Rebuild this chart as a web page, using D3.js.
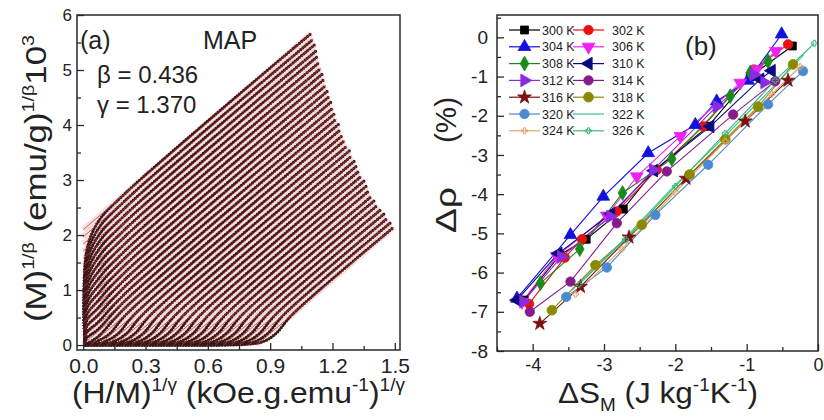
<!DOCTYPE html>
<html><head><meta charset="utf-8">
<script src="https://cdn.jsdelivr.net/npm/d3@7"></script>
<style>body{margin:0;background:#fff}svg{display:block}text{font-family:"Liberation Sans",Arial,sans-serif;fill:#222}</style>
</head><body><svg id="c" width="824" height="420"></svg>
<script>
// ---------- Panel (a): modified Arrott plot ----------
const mapXTicks = [0, 0.3, 0.6, 0.9, 1.2, 1.5];
const mapXMinor = [0.15, 0.45, 0.75, 1.05, 1.35];
const mapYTicks = [0, 1, 2, 3, 4, 5, 6];
const mapYMinor = [0.5, 1.5, 2.5, 3.5, 4.5, 5.5];
const mapFitSlope = 3.25;
const mapFitX0 = [-0.645,-0.605,-0.565,-0.525,-0.485,-0.445,-0.405,-0.365,-0.325,-0.285,
  -0.245,-0.205,-0.165,-0.125,-0.085,-0.045,-0.005,0.035,0.075,0.115,0.155,0.195,0.235,
  0.275,0.315,0.355,0.395,0.435,0.475,0.515,0.555,0.595,0.635,0.675,0.715,0.755,0.795,0.835];
const mapIsotherms = [
 [[0.008,0.05],[0.015,1.68],[0.07,2.23],[0.2,2.75],[1.099,5.67]],
 [[0.008,0.05],[0.015,1.57],[0.07,2.10],[0.2,2.62],[1.107,5.56]],
 [[0.008,0.05],[0.015,1.47],[0.07,1.97],[0.2,2.49],[1.114,5.46]],
 [[0.008,0.05],[0.015,1.36],[0.07,1.84],[0.2,2.36],[1.122,5.35]],
 [[0.008,0.05],[0.015,1.26],[0.07,1.71],[0.2,2.23],[1.129,5.25]],
 [[0.008,0.05],[0.015,1.16],[0.07,1.58],[0.2,2.10],[1.137,5.14]],
 [[0.008,0.05],[0.015,1.05],[0.07,1.45],[0.2,1.97],[1.144,5.03]],
 [[0.008,0.05],[0.015,0.95],[0.07,1.32],[0.2,1.84],[1.152,4.93]],
 [[0.008,0.05],[0.015,0.84],[0.07,1.19],[0.2,1.71],[1.160,4.83]],
 [[0.008,0.05],[0.015,0.74],[0.07,1.06],[0.2,1.58],[1.168,4.72]],
 [[0.008,0.05],[0.015,0.64],[0.07,0.93],[0.2,1.45],[1.177,4.62]],
 [[0.008,0.05],[0.015,0.53],[0.07,0.80],[0.2,1.32],[1.185,4.52]],
 [[0.008,0.04],[0.015,0.43],[0.07,0.67],[0.2,1.19],[1.194,4.42]],
 [[0.008,0.03],[0.015,0.32],[0.07,0.54],[0.2,1.06],[1.202,4.31]],
 [[0.008,0.02],[0.015,0.22],[0.07,0.41],[0.2,0.93],[1.211,4.21]],
 [[0.008,0.02],[0.015,0.12],[0.07,0.28],[0.2,0.80],[1.219,4.11]],
 [[0.008,0.01],[0.018,0.03],[0.07,0.15],[0.2,0.67],[1.228,4.01]],
 [[0.010,0.00],[0.055,0.05],[0.125,0.20],[0.205,0.55],[1.237,3.91]],
 [[0.010,0.00],[0.095,0.05],[0.165,0.20],[0.245,0.55],[1.248,3.81]],
 [[0.010,0.00],[0.135,0.05],[0.205,0.20],[0.285,0.55],[1.259,3.72]],
 [[0.010,0.00],[0.175,0.05],[0.245,0.20],[0.325,0.55],[1.270,3.62]],
 [[0.010,0.00],[0.215,0.05],[0.285,0.20],[0.365,0.55],[1.281,3.53]],
 [[0.015,0.00],[0.255,0.05],[0.325,0.20],[0.405,0.55],[1.293,3.44]],
 [[0.055,0.00],[0.295,0.05],[0.365,0.20],[0.445,0.55],[1.304,3.34]],
 [[0.095,0.00],[0.335,0.05],[0.405,0.20],[0.485,0.55],[1.315,3.25]],
 [[0.135,0.00],[0.375,0.05],[0.445,0.20],[0.525,0.55],[1.327,3.16]],
 [[0.175,0.00],[0.415,0.05],[0.485,0.20],[0.565,0.55],[1.339,3.07]],
 [[0.215,0.00],[0.455,0.05],[0.525,0.20],[0.605,0.55],[1.351,2.98]],
 [[0.255,0.00],[0.495,0.05],[0.565,0.20],[0.645,0.55],[1.363,2.89]],
 [[0.295,0.00],[0.535,0.05],[0.605,0.20],[0.685,0.55],[1.375,2.80]],
 [[0.335,0.00],[0.575,0.05],[0.645,0.20],[0.725,0.55],[1.387,2.70]],
 [[0.375,0.00],[0.615,0.05],[0.685,0.20],[0.765,0.55],[1.400,2.62]],
 [[0.415,0.00],[0.655,0.05],[0.725,0.20],[0.805,0.55],[1.416,2.54]],
 [[0.455,0.00],[0.695,0.05],[0.765,0.20],[0.845,0.55],[1.432,2.46]],
 [[0.495,0.00],[0.735,0.05],[0.805,0.20],[0.885,0.55],[1.447,2.38]],
 [[0.535,0.00],[0.775,0.05],[0.845,0.20],[0.925,0.55],[1.463,2.30]],
 [[0.575,0.00],[0.815,0.05],[0.885,0.20],[0.965,0.55],[1.478,2.22]],
 [[0.615,0.00],[0.855,0.05],[0.925,0.20],[1.005,0.55],[1.494,2.14]]
];

// ---------- Panel (b): Δρ vs ΔS_M ----------
const dsTicks = [-4, -3, -2, -1, 0];
const dsMinor = [-4.5, -3.5, -2.5, -1.5, -0.5];
const drTicks = [0, -1, -2, -3, -4, -5, -6, -7, -8];
const drMinor = [0.5, -0.5, -1.5, -2.5, -3.5, -4.5, -5.5, -6.5, -7.5];
const tempLabels = ["300 K","302 K","304 K","306 K","308 K","310 K","312 K","314 K","316 K","318 K","320 K","322 K","324 K","326 K"];
const d300 = [[-4.12,-6.70],[-3.62,-5.55],[-3.25,-5.15],[-2.73,-4.38],[-2.30,-3.40],[-1.54,-2.27],[-0.95,-1.00],[-0.36,-0.22]];
const d302 = [[-4.05,-6.80],[-3.55,-5.62],[-3.31,-5.15],[-2.82,-4.44],[-2.26,-3.38],[-1.61,-2.27],[-0.90,-0.82],[-0.42,-0.18]];
const d304 = [[-4.22,-6.66],[-3.47,-5.04],[-3.01,-4.06],[-2.38,-2.95],[-1.72,-2.23],[-1.42,-1.63],[-0.98,-1.10],[-0.51,0.08]];
const d306 = [[-4.15,-6.75],[-3.66,-5.58],[-2.96,-4.55],[-2.54,-3.55],[-1.93,-2.52],[-1.09,-1.16],[-0.86,-0.82],[-0.59,-0.35]];
const d308 = [[-3.89,-6.27],[-3.34,-5.40],[-2.74,-3.97],[-2.05,-3.10],[-1.23,-1.50],[-0.95,-0.90],[-0.70,-0.61]];
const d310 = [[-4.22,-6.70],[-3.64,-5.51],[-2.90,-4.50],[-2.30,-3.40],[-1.51,-2.27],[-0.81,-1.07],[-0.65,-0.85]];
const d312 = [[-4.13,-6.74],[-3.60,-5.60],[-2.91,-4.57],[-2.31,-3.38],[-1.42,-1.76],[-0.90,-0.95],[-0.75,-1.15]];
const d314 = [[-4.04,-7.00],[-3.47,-6.23],[-2.82,-4.74],[-2.12,-3.42],[-1.19,-1.97],[-0.60,-1.12]];
const d316 = [[-3.90,-7.30],[-3.33,-6.36],[-2.65,-5.10],[-1.85,-3.60],[-1.02,-2.14],[-0.42,-1.10]];
const d318 = [[-3.73,-6.96],[-3.12,-5.81],[-2.47,-4.78],[-1.80,-3.50],[-1.30,-2.60],[-0.84,-1.77],[-0.35,-0.69]];
const d320 = [[-3.53,-6.62],[-2.96,-5.87],[-2.28,-4.53],[-1.54,-3.25],[-0.70,-1.71],[-0.21,-0.86]];
const d322 = [[-3.45,-6.45],[-2.80,-5.30],[-2.10,-3.95],[-1.40,-2.70],[-0.70,-1.40],[-0.20,-0.45]];
const d324 = [[-3.40,-6.55],[-2.75,-5.40],[-2.00,-3.95],[-1.30,-2.65],[-0.65,-1.45],[-0.25,-0.75]];
const d326 = [[-3.35,-6.30],[-2.70,-5.15],[-2.00,-3.80],[-1.30,-2.45],[-0.60,-1.10],[-0.05,-0.15]];
const seriesB = [d300,d302,d304,d306,d308,d310,d312,d314,d316,d318,d320,d322,d324,d326];

// styles (kept separate from data)
const seriesColors = ["#000000","#e81010","#1010e0","#f020f0","#1a8a1a","#0a0a80","#8a2be2","#861c8c","#7a1010","#8a8a00","#4a8ad0","#3cc09a","#e6a468","#3cb878"];
const seriesShapes = ["square","circle","up","down","diamond","left","right","circle","star","hex","circle","none","plus","plus"];

const svg = d3.select("#c");
const axisColor = "#2a2a2a";

function styleAxis(g, fs) {
  g.select(".domain").remove();
  g.selectAll(".tick line").attr("stroke", axisColor).attr("stroke-width", 1.3);
  g.selectAll(".tick text").attr("font-size", fs).attr("fill", "#222")
    .attr("font-family", '"Liberation Sans",Arial,sans-serif');
}

// ===== Panel (a) =====
const A = {l:77, r:400, t:15, b:350};
const xA = d3.scaleLinear().domain([-0.03, 1.525]).range([A.l, A.r]);
const yA = d3.scaleLinear().domain([-0.09, 6]).range([A.b, A.t]);

svg.append("clipPath").attr("id","clipA").append("rect")
  .attr("x",A.l).attr("y",A.t).attr("width",A.r-A.l).attr("height",A.b-A.t);
const gA = svg.append("g").attr("clip-path","url(#clipA)");

const fitSeg = (x0, endX) => {
  const xs = Math.max(0, x0);
  return [[xs, mapFitSlope*(xs-x0)], [endX, mapFitSlope*(endX-x0)]];
};
const lineA = d3.line().x(d=>xA(d[0])).y(d=>yA(d[1]));
const curveA = d3.line().x(d=>xA(d[0])).y(d=>yA(d[1])).curve(d3.curveCatmullRom.alpha(0.5));

// pink halo of fit lines
gA.selectAll("path.halo").data(mapIsotherms).join("path")
  .attr("d",(d,i)=>lineA(fitSeg(mapFitX0[i], d[d.length-1][0])))
  .attr("fill","none").attr("stroke","#d87070").attr("stroke-opacity",0.2).attr("stroke-width",6);
// measured points (dense dots)
gA.selectAll("path.iso").data(mapIsotherms).join("path")
  .attr("d",d=>curveA(d))
  .attr("fill","none").attr("stroke","#3a1a1a").attr("stroke-width",3.2)
  .attr("stroke-linecap","round").attr("stroke-dasharray","0 2.8");
// red fit lines
gA.selectAll("path.fit").data(mapIsotherms).join("path")
  .attr("d",(d,i)=>lineA(fitSeg(mapFitX0[i], d[d.length-1][0])))
  .attr("fill","none").attr("stroke","#c83030").attr("stroke-opacity",0.85).attr("stroke-width",0.9);

// axes (a)
styleAxis(svg.append("g").attr("transform",`translate(${A.l},0)`)
  .call(d3.axisLeft(yA).tickValues(mapYTicks).tickSize(-7).tickPadding(5).tickFormat(d=>String(d))), 17);
styleAxis(svg.append("g").attr("transform",`translate(${A.l},0)`)
  .call(d3.axisLeft(yA).tickValues(mapYMinor).tickSize(-4).tickFormat("")), 17);
styleAxis(svg.append("g").attr("transform",`translate(0,${A.b})`)
  .call(d3.axisBottom(xA).tickValues(mapXTicks).tickSize(-7).tickPadding(8).tickFormat(d3.format(".1f"))), 21);
styleAxis(svg.append("g").attr("transform",`translate(0,${A.b})`)
  .call(d3.axisBottom(xA).tickValues(mapXMinor).tickSize(-4).tickFormat("")), 21);
svg.append("rect").attr("x",A.l).attr("y",A.t).attr("width",A.r-A.l).attr("height",A.b-A.t)
  .attr("fill","none").attr("stroke",axisColor).attr("stroke-width",1.5);

svg.append("text").attr("x",80).attr("y",49).attr("font-size",25).text("(a)");
svg.append("text").attr("x",203).attr("y",49).attr("font-size",25).text("MAP");
svg.append("text").attr("x",97).attr("y",83).attr("font-size",24).text("β = 0.436");
svg.append("text").attr("x",97).attr("y",113).attr("font-size",24).text("γ = 1.370");

// axis titles (a)
{
  const t = svg.append("text").attr("x",72).attr("y",403).attr("font-size",30)
    .attr("textLength",333).attr("lengthAdjust","spacingAndGlyphs");
  t.append("tspan").text("(H/M)");
  t.append("tspan").attr("font-size",18).attr("dy",-12).text("1/γ");
  t.append("tspan").attr("dy",12).text(" (kOe.g.emu");
  t.append("tspan").attr("font-size",18).attr("dy",-12).text("-1");
  t.append("tspan").attr("dy",12).text(")");
  t.append("tspan").attr("font-size",18).attr("dy",-12).text("1/γ");
}
{
  const t = svg.append("text").attr("transform","translate(46,322) rotate(-90)").attr("font-size",30)
    .attr("textLength",287).attr("lengthAdjust","spacingAndGlyphs");
  t.append("tspan").text("(M)");
  t.append("tspan").attr("font-size",17).attr("dy",-12).text("1/β");
  t.append("tspan").attr("dy",12).text(" (emu/g)");
  t.append("tspan").attr("font-size",17).attr("dy",-12).text("1/β");
  t.append("tspan").attr("dy",12).text("10");
  t.append("tspan").attr("font-size",17).attr("dy",-12).text("3");
}

// ===== Panel (b) =====
const B = {l:497, r:818, t:15, b:351};
const xB = d3.scaleLinear().domain([-4.5, 0]).range([B.l, B.r]);
const yB = d3.scaleLinear().domain([-8, 0.57]).range([B.b, B.t]);

styleAxis(svg.append("g").attr("transform",`translate(${B.l},0)`)
  .call(d3.axisLeft(yB).tickValues(drTicks).tickSize(-7).tickPadding(9).tickFormat(d=>String(d))), 19);
styleAxis(svg.append("g").attr("transform",`translate(${B.l},0)`)
  .call(d3.axisLeft(yB).tickValues(drMinor).tickSize(-4).tickFormat("")), 19);
styleAxis(svg.append("g").attr("transform",`translate(0,${B.b})`)
  .call(d3.axisBottom(xB).tickValues(dsTicks).tickSize(-7).tickPadding(7).tickFormat(d=>String(d))), 18);
styleAxis(svg.append("g").attr("transform",`translate(0,${B.b})`)
  .call(d3.axisBottom(xB).tickValues(dsMinor).tickSize(-4).tickFormat("")), 18);

function symbolPath(shape) {
  const S = d3.symbol();
  switch (shape) {
    case "square": return S.type(d3.symbolSquare).size(64)();
    case "circle": return S.type(d3.symbolCircle).size(70)();
    case "up": case "down": case "left": case "right": return S.type(d3.symbolTriangle).size(70)();
    case "diamond": return S.type(d3.symbolDiamond).size(64)();
    case "star": return S.type(d3.symbolStar).size(60)();
    case "hex": return S.type(d3.symbolCircle).size(75)();
    case "plus": return S.type(d3.symbolCross).size(20)();
    default: return null;
  }
}
const rot = {up:0, down:180, left:-90, right:90};
function drawMarker(g, x, y, k) {
  const shape = seriesShapes[k];
  const p = symbolPath(shape);
  if (!p) return;
  const r = rot[shape] || 0;
  g.append("path").attr("d", p)
    .attr("transform", `translate(${x},${y}) rotate(${r})`)
    .attr("fill", shape === "plus" ? "none" : seriesColors[k])
    .attr("stroke", seriesColors[k]).attr("stroke-width", shape === "plus" ? 1 : 0.8);
}

const gB = svg.append("g");
const lineB = d3.line().x(d=>xB(d[0])).y(d=>yB(d[1]));
seriesB.forEach((pts, k) => {
  gB.append("path").attr("d", lineB(pts)).attr("fill","none")
    .attr("stroke", seriesColors[k]).attr("stroke-width", 1.1);
});
seriesB.forEach((pts, k) => {
  pts.forEach(p => drawMarker(gB, xB(p[0]), yB(p[1]), k));
});

svg.append("rect").attr("x",B.l).attr("y",B.t).attr("width",B.r-B.l).attr("height",B.b-B.t)
  .attr("fill","none").attr("stroke",axisColor).attr("stroke-width",1.5);

// legend
const legG = svg.append("g");
tempLabels.forEach((lab, k) => {
  const col = k % 2, row = Math.floor(k / 2);
  const y = 30 + row * 16.8;
  const x1 = col === 0 ? 509 : 573, x2 = col === 0 ? 540 : 604;
  legG.append("line").attr("x1",x1).attr("x2",x2).attr("y1",y).attr("y2",y)
    .attr("stroke",seriesColors[k]).attr("stroke-width",1.2);
  drawMarker(legG, (x1+x2)/2, y, k);
  legG.append("text").attr("x", col === 0 ? 542 : 612).attr("y", y+4.5)
    .attr("font-size",12.5).attr("fill","#444").text(lab);
});

svg.append("text").attr("x",685).attr("y",55).attr("font-size",26).text("(b)");

// axis titles (b)
{
  const t = svg.append("text").attr("x",558).attr("y",403).attr("font-size",30)
    .attr("textLength",200).attr("lengthAdjust","spacingAndGlyphs");
  t.append("tspan").text("ΔS");
  t.append("tspan").attr("font-size",18).attr("dy",8).text("M");
  t.append("tspan").attr("dy",-8).text(" (J kg");
  t.append("tspan").attr("font-size",18).attr("dy",-12).text("-1");
  t.append("tspan").attr("dy",12).text("K");
  t.append("tspan").attr("font-size",18).attr("dy",-12).text("-1");
  t.append("tspan").attr("dy",12).text(")");
}
svg.append("text").attr("transform","translate(456,233) rotate(-90)").attr("font-size",30)
  .attr("textLength",46).attr("lengthAdjust","spacingAndGlyphs").text("Δρ");
svg.append("text").attr("transform","translate(456,143) rotate(-90)").attr("font-size",30)
  .attr("textLength",46).attr("lengthAdjust","spacingAndGlyphs").text("(%)");
</script></body></html>
